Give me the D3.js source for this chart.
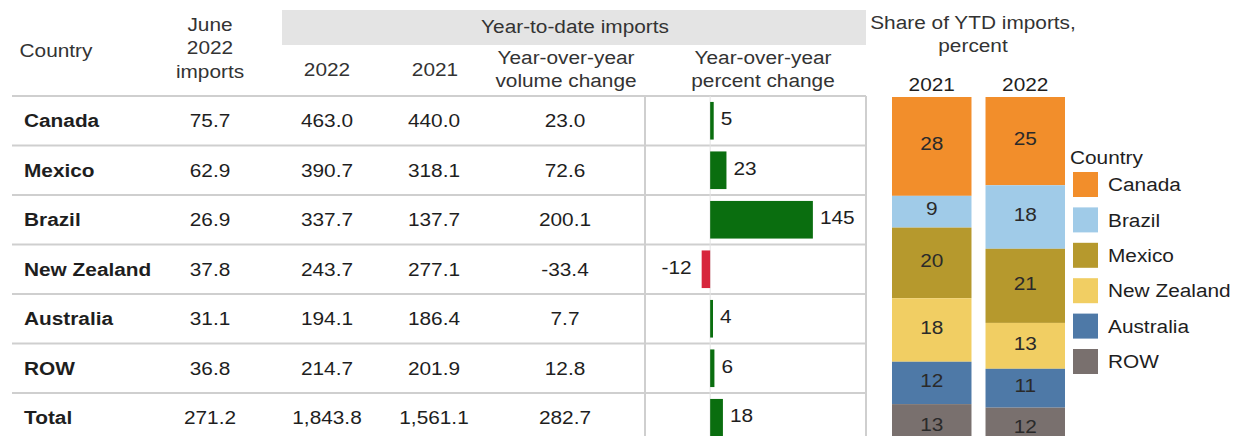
<!DOCTYPE html>
<html>
<head>
<meta charset="utf-8">
<script src="https://cdn.jsdelivr.net/npm/d3@7"></script>
<style>
  body { margin: 0; background: #fff; }
  svg { display: block; font-family: "Liberation Sans", Arial, sans-serif; }
</style>
</head>
<body>
<div id="chart"></div>
<script>
//////////////////////////////
// DATA
//////////////////////////////

const rows = ["Canada", "Mexico", "Brazil", "New Zealand", "Australia", "ROW", "Total"]
const june2022 = [75.7, 62.9, 26.9, 37.8, 31.1, 36.8, 271.2]
const ytd2022 = [463.0, 390.7, 337.7, 243.7, 194.1, 214.7, 1843.8]
const ytd2021 = [440.0, 318.1, 137.7, 277.1, 186.4, 201.9, 1561.1]
const volChange = [23.0, 72.6, 200.1, -33.4, 7.7, 12.8, 282.7]
const pctChange = [5, 23, 145, -12, 4, 6, 18]

const shareYears = ["2021", "2022"]
const shareKeys = ["Canada", "Brazil", "Mexico", "New Zealand", "Australia", "ROW"]
const share2021 = [28, 9, 20, 18, 12, 13]
const share2022 = [25, 18, 21, 13, 11, 12]
const shareColors = ["#f28e2b", "#a0cbe8", "#b6992d", "#f1ce63", "#4e79a7", "#79706e"]

//////////////////////////////
// SETUP
//////////////////////////////

const width = 1234
const height = 436
const fs = 18.6
const sx = 1.12   // source picture is a bit wide
const ink = "#1e1e1e"
const lineCol = "#cfcfcf"

const svg = d3.select("#chart").append("svg")
	.attr("width", width).attr("height", height)

const fmt = v => d3.format(",.1f")(v).replace("\u2212", "-")

// put text at (x,y) with the horizontal stretch
const place = (sel, fx, fy) => {
	sel.attr("transform", (d, i) => "translate(" + fx(d, i) + "," + fy(d, i) + ") scale(" + sx + ",1)")
}

const y = d3.scaleBand().domain(rows).range([96, 96 + rows.length * 49.5])

// column centres
const cols = [
	{ x: 210, vals: june2022 },
	{ x: 327, vals: ytd2022 },
	{ x: 434, vals: ytd2021 },
	{ x: 565, vals: volChange }
]

//////////////////////////////
// HEADER
//////////////////////////////

svg.append("rect")
	.attr("x", 282).attr("y", 10).attr("width", 584).attr("height", 35)
	.attr("fill", "#e4e4e4")

const headText = (x, yPos, lines) => {
	const t = svg.append("text")
		.attr("text-anchor", "middle")
		.attr("font-size", fs).attr("fill", "#333")
	place(t, () => x, () => yPos)
	lines.forEach((l, i) => {
		t.append("tspan").attr("x", 0).attr("dy", i === 0 ? 0 : 23.5).text(l)
	})
}

headText(575, 33, ["Year-to-date imports"])
headText(56, 57, ["Country"])
headText(210, 31, ["June", "2022", "imports"])
headText(327, 76, ["2022"])
headText(435, 76, ["2021"])
headText(566, 64, ["Year-over-year", "volume change"])
headText(763, 64, ["Year-over-year", "percent change"])

//////////////////////////////
// TABLE
//////////////////////////////

// row separators
svg.selectAll(".rowline")
	.data(rows)
	.enter().append("line")
	.attr("x1", 12).attr("x2", 866)
	.attr("y1", d => y(d)).attr("y2", d => y(d))
	.attr("stroke", lineCol).attr("stroke-width", 2)

// boxed percent column
const xp = d3.scaleLinear().domain([-92, 220]).range([645, 866])

;[645, 866].forEach(x => {
	svg.append("line")
		.attr("x1", x).attr("x2", x).attr("y1", 96).attr("y2", height)
		.attr("stroke", lineCol).attr("stroke-width", 2)
})
svg.append("line")
	.attr("x1", xp(0)).attr("x2", xp(0)).attr("y1", 96).attr("y2", height)
	.attr("stroke", "#e2e2e2").attr("stroke-width", 1)

const mid = d => y(d) + y.bandwidth() / 2

const labels = svg.selectAll(".rowlabel")
	.data(rows)
	.enter().append("text")
	.attr("dy", "0.36em")
	.attr("font-size", fs).attr("font-weight", "bold").attr("fill", ink)
	.text(d => d)
place(labels, () => 24, d => mid(d))

cols.forEach(c => {
	const t = svg.selectAll(null)
		.data(c.vals)
		.enter().append("text")
		.attr("dy", "0.36em")
		.attr("text-anchor", "middle")
		.attr("font-size", fs).attr("fill", ink)
		.text(d => fmt(d))
	place(t, () => c.x, (d, i) => mid(rows[i]))
})

// percent change bars
const barH = y.bandwidth() * 0.76

svg.selectAll(".pbar")
	.data(pctChange)
	.enter().append("rect")
	.attr("x", d => xp(Math.min(0, d)))
	.attr("y", (d, i) => mid(rows[i]) - barH / 2)
	.attr("width", d => Math.abs(xp(d) - xp(0)))
	.attr("height", barH)
	.attr("fill", d => d < 0 ? "#d7263d" : "#0a6e0f")

const plab = svg.selectAll(".plabel")
	.data(pctChange)
	.enter().append("text")
	.attr("dy", "0.36em")
	.attr("text-anchor", d => d < 0 ? "end" : "start")
	.attr("font-size", fs).attr("fill", ink)
	.text(d => d < 0 ? "-" + Math.abs(d) : d)
place(plab, d => d < 0 ? xp(d) - 10 : xp(d) + 7, (d, i) => mid(rows[i]) - 2)

//////////////////////////////
// SHARE STACKED BARS
//////////////////////////////

headText(973, 29, ["Share of YTD imports,", "percent"])

const shareData = shareYears.map((yr, j) => {
	const row = { year: yr }
	const src = j === 0 ? share2021 : share2022
	shareKeys.forEach((k, i) => { row[k] = src[i] })
	return row
})

const xs = d3.scaleBand().domain(shareYears).range([892, 1065]).paddingInner(0.15)
const ys = d3.scaleLinear().domain([0, 100]).range([97, 450])
const color = d3.scaleOrdinal().domain(shareKeys).range(shareColors)

const stacked = d3.stack().keys(shareKeys)(shareData)

const layer = svg.selectAll(".layer")
	.data(stacked)
	.enter().append("g")
	.attr("fill", d => color(d.key))

layer.selectAll("rect")
	.data(d => d)
	.enter().append("rect")
	.attr("x", d => xs(d.data.year))
	.attr("y", d => ys(d[0]))
	.attr("width", xs.bandwidth())
	.attr("height", d => ys(d[1]) - ys(d[0]))

const segLab = layer.selectAll("text")
	.data(d => d)
	.enter().append("text")
	.attr("dy", "0.36em")
	.attr("text-anchor", "middle")
	.attr("font-size", fs).attr("fill", "#2a2a2a")
	.text(d => d[1] - d[0])
place(segLab, d => xs(d.data.year) + xs.bandwidth() / 2, d => (ys(d[0]) + ys(d[1])) / 2 - 3)

const yrLab = svg.selectAll(".yearlabel")
	.data(shareYears)
	.enter().append("text")
	.attr("text-anchor", "middle")
	.attr("font-size", fs).attr("fill", ink)
	.text(d => d)
place(yrLab, d => xs(d) + xs.bandwidth() / 2, () => 91)

//////////////////////////////
// LEGEND
//////////////////////////////

const legend = svg.append("g").attr("transform", "translate(1073,172)")

const lt = legend.append("text")
	.attr("font-size", fs).attr("fill", ink)
	.text("Country")
place(lt, () => -3, () => -8)

const item = legend.selectAll(".item")
	.data(shareKeys)
	.enter().append("g")
	.attr("transform", (d, i) => "translate(0," + (i * 35.4) + ")")

item.append("rect")
	.attr("width", 25).attr("height", 25)
	.attr("fill", d => color(d))

const it = item.append("text")
	.attr("dy", "0.36em")
	.attr("font-size", fs).attr("fill", ink)
	.text(d => d)
place(it, () => 35, () => 12.5)
</script>
</body>
</html>
